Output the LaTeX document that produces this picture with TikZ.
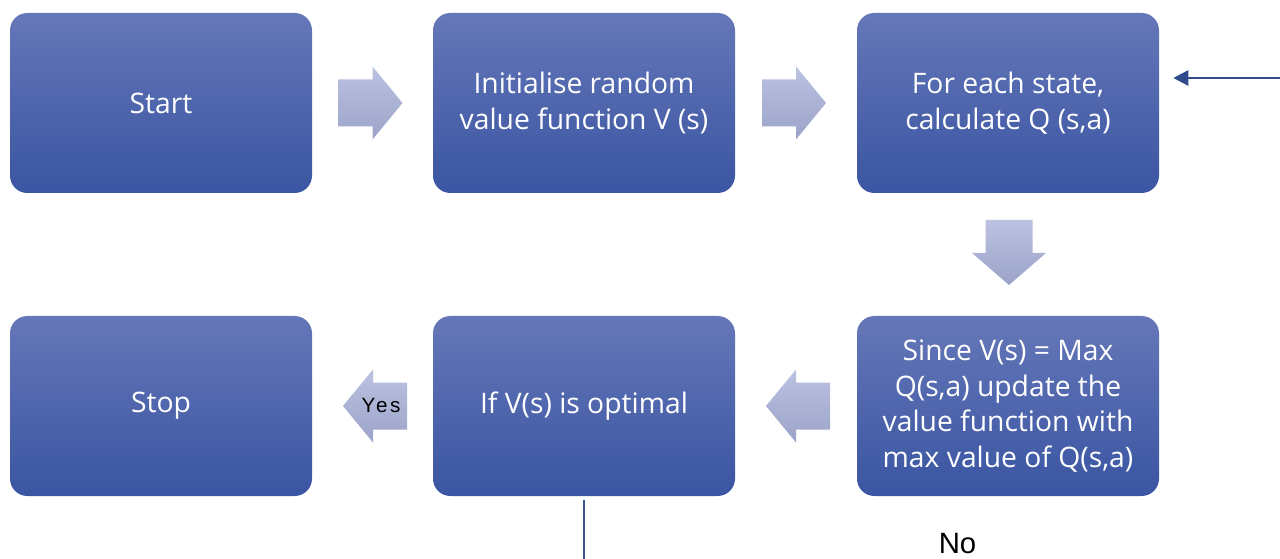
\documentclass[tikz,border=0pt]{standalone}
\usepackage{fontspec}
\setmainfont{Open Sans}
\newfontfamily\arialfont{Liberation Sans}
\newfontfamily\yesfont[LetterSpace=12]{Liberation Sans}
\usetikzlibrary{arrows.meta,calc}
\definecolor{boxtop}{RGB}{101,119,184}
\definecolor{boxbot}{RGB}{58,85,162}
\definecolor{arrtop}{RGB}{187,194,225}
\definecolor{arrbot}{RGB}{155,163,201}
\definecolor{linkblue}{RGB}{47,75,138}
\definecolor{exitblue}{RGB}{59,85,150}
\begin{document}
\begin{tikzpicture}[x=0.75pt,y=-0.75pt,
  stepbox/.style={rectangle, rounded corners=13pt, minimum width=226.5pt,
    minimum height=135pt, top color=boxtop, bottom color=boxbot,
    text=white, align=center, inner sep=0pt,
    font=\fontsize{21.2}{26.8}\selectfont},
  arrowfill/.style={top color=arrtop, bottom color=arrbot},
  rarrow/.pic={\shade[arrowfill] (-32,-23.5) -- (2,-23.5) -- (2,-36.5) -- (32,0)
    -- (2,36.5) -- (2,23.5) -- (-32,23.5) -- cycle;},
  larrow/.pic={\shade[arrowfill] (32,-23.5) -- (-2,-23.5) -- (-2,-36.5) -- (-32,0)
    -- (-2,36.5) -- (-2,23.5) -- (32,23.5) -- cycle;},
  darrow/.pic={\shade[arrowfill] (-23.5,-32.5) -- (23.5,-32.5) -- (23.5,0.5)
    -- (37,0.5) -- (0,32.5) -- (-37,0.5) -- (-23.5,0.5) -- cycle;},
]
\useasboundingbox (0,0) rectangle (1280,559);

% process steps
\node[stepbox] (start)  at (161,103)  {Start};
\node[stepbox] (init)   at (584,103)  {Initialise random\\value function V (s)};
\node[stepbox] (calcq)  at (1008,103) {For each state,\\calculate Q (s,a)};
\node[stepbox] (update) at (1008,406) {Since V(s) = Max\\Q(s,a) update the\\value function with\\max value of Q(s,a)};
\node[stepbox] (check)  at (584,406)  {If V(s) is optimal};
\node[stepbox] (stop)   at (161,406)  {Stop};

% block arrows between the steps
\pic at ($(start.east)!0.5!(init.west)+(-2,0)$) {rarrow};
\pic at ($(init.east)!0.5!(calcq.west)+(-2,0)$) {rarrow};
\pic at ($(calcq.south)!0.5!(update.north)+(1,-2)$) {darrow};
\pic at ($(update.west)!0.5!(check.east)+(2,0)$) {larrow};
\pic at ($(check.west)!0.5!(stop.east)+(2.5,0)$) {larrow};
\node[font=\yesfont\fontsize{15.5}{18}\selectfont, anchor=base] (yes) at (381,412.5) {Yes};

% loop back: "No" branch leaves the check and re-enters the Q step
\coordinate (loopin) at (1280,78);
\draw[linkblue, line width=1.9pt, -{Triangle[length=11.25pt,width=11.25pt]},
  shorten >=10.5pt] (loopin) -- (calcq.east |- loopin);
\coordinate (loopout) at (583,559);
\draw[exitblue, line width=1.8pt] ([yshift=-3pt]check.south) -- (check.south |- loopout);
\node[font=\arialfont\fontsize{22}{26}\selectfont, anchor=base] (no) at (957.5,553) {No};
\end{tikzpicture}
\end{document}
